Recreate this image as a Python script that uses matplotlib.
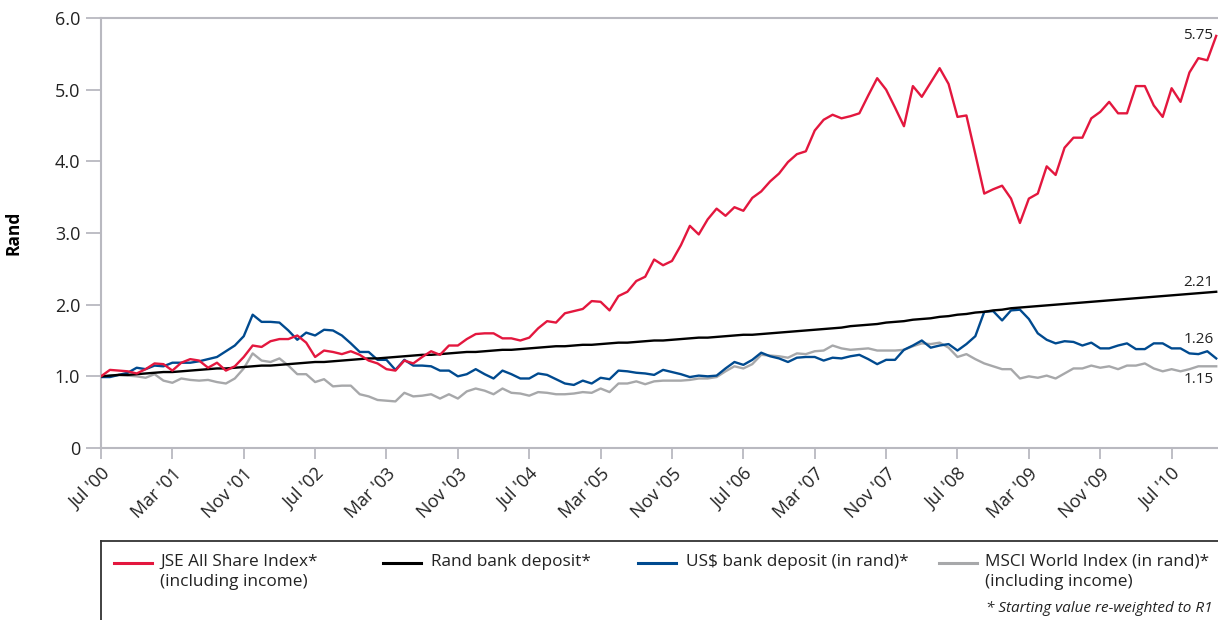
import matplotlib
matplotlib.use("Agg")
import matplotlib.pyplot as plt
from matplotlib.lines import Line2D
from matplotlib.transforms import ScaledTranslation

plt.rcParams['font.family'] = ['Open Sans', 'DejaVu Sans']

# Monthly values, Jul 2000 .. Dec 2010 (index 0 = Jul '00)
jse = [1.00, 1.09, 1.08, 1.07, 1.04, 1.10, 1.18, 1.17, 1.08, 1.19,
       1.24, 1.22, 1.12, 1.19, 1.08, 1.14, 1.27, 1.43, 1.41, 1.49,
       1.52, 1.52, 1.57, 1.47, 1.27, 1.36, 1.34, 1.31, 1.35, 1.30,
       1.22, 1.18, 1.10, 1.08, 1.22, 1.18, 1.27, 1.35, 1.30, 1.43,
       1.43, 1.52, 1.59, 1.60, 1.60, 1.53, 1.53, 1.50, 1.54, 1.67,
       1.77, 1.75, 1.88, 1.91, 1.94, 2.05, 2.04, 1.92, 2.12, 2.18,
       2.33, 2.39, 2.63, 2.55, 2.61, 2.83, 3.10, 2.98, 3.19, 3.34,
       3.24, 3.36, 3.31, 3.49, 3.58, 3.72, 3.83, 3.99, 4.10, 4.14,
       4.43, 4.58, 4.65, 4.60, 4.63, 4.67, 4.92, 5.16, 5.00, 4.75,
       4.49, 5.05, 4.90, 5.10, 5.30, 5.08, 4.62, 4.64, 4.10, 3.55,
       3.61, 3.66, 3.48, 3.14, 3.48, 3.55, 3.93, 3.81, 4.19, 4.33,
       4.33, 4.60, 4.69, 4.83, 4.67, 4.67, 5.05, 5.05, 4.78, 4.62,
       5.02, 4.83, 5.24, 5.44, 5.41, 5.75]

rand_deposit = [1.00, 1.01, 1.02, 1.02, 1.03, 1.04, 1.05, 1.06, 1.06, 1.07,
                1.08, 1.09, 1.10, 1.11, 1.11, 1.12, 1.13, 1.14, 1.15, 1.15,
                1.16, 1.17, 1.18, 1.19, 1.20, 1.20, 1.21, 1.22, 1.23, 1.24,
                1.25, 1.25, 1.26, 1.27, 1.28, 1.29, 1.30, 1.30, 1.31, 1.32,
                1.33, 1.34, 1.34, 1.35, 1.36, 1.37, 1.37, 1.38, 1.39, 1.40,
                1.41, 1.42, 1.42, 1.43, 1.44, 1.44, 1.45, 1.46, 1.47, 1.47,
                1.48, 1.49, 1.50, 1.50, 1.51, 1.52, 1.53, 1.54, 1.54, 1.55,
                1.56, 1.57, 1.58, 1.58, 1.59, 1.60, 1.61, 1.62, 1.63, 1.64,
                1.65, 1.66, 1.67, 1.68, 1.70, 1.71, 1.72, 1.73, 1.75, 1.76,
                1.77, 1.79, 1.80, 1.81, 1.83, 1.84, 1.86, 1.87, 1.89, 1.90,
                1.92, 1.93, 1.95, 1.96, 1.97, 1.98, 1.99, 2.00, 2.01, 2.02,
                2.03, 2.04, 2.05, 2.06, 2.07, 2.08, 2.09, 2.10, 2.11, 2.12,
                2.13, 2.14, 2.15, 2.16, 2.17, 2.18]

usd_deposit = [0.99, 0.99, 1.02, 1.05, 1.12, 1.10, 1.15, 1.14, 1.19, 1.19,
               1.19, 1.21, 1.24, 1.27, 1.35, 1.43, 1.56, 1.86, 1.76, 1.76,
               1.75, 1.64, 1.51, 1.61, 1.57, 1.65, 1.64, 1.57, 1.46, 1.34,
               1.34, 1.23, 1.23, 1.09, 1.23, 1.15, 1.15, 1.14, 1.08, 1.08,
               1.00, 1.03, 1.10, 1.03, 0.97, 1.08, 1.03, 0.97, 0.97, 1.04,
               1.02, 0.96, 0.90, 0.88, 0.94, 0.90, 0.98, 0.96, 1.08, 1.07,
               1.05, 1.04, 1.02, 1.09, 1.06, 1.03, 0.99, 1.01, 1.00, 1.01,
               1.11, 1.20, 1.16, 1.23, 1.33, 1.28, 1.25, 1.20, 1.26, 1.27,
               1.27, 1.22, 1.26, 1.25, 1.28, 1.30, 1.24, 1.17, 1.23, 1.23,
               1.37, 1.43, 1.50, 1.40, 1.43, 1.45, 1.36, 1.45, 1.56, 1.90,
               1.91, 1.78, 1.92, 1.93, 1.80, 1.60, 1.51, 1.46, 1.49, 1.48,
               1.43, 1.47, 1.39, 1.39, 1.43, 1.46, 1.38, 1.38, 1.46, 1.46,
               1.39, 1.39, 1.32, 1.31, 1.35, 1.25]

msci = [0.99, 1.01, 1.02, 1.01, 1.00, 0.98, 1.03, 0.94, 0.91, 0.97,
        0.95, 0.94, 0.95, 0.92, 0.90, 0.97, 1.11, 1.32, 1.22, 1.20,
        1.25, 1.15, 1.03, 1.03, 0.92, 0.96, 0.86, 0.87, 0.87, 0.75,
        0.72, 0.67, 0.66, 0.65, 0.77, 0.72, 0.73, 0.75, 0.69, 0.75,
        0.69, 0.79, 0.83, 0.80, 0.75, 0.83, 0.77, 0.76, 0.73, 0.78,
        0.77, 0.75, 0.75, 0.76, 0.78, 0.77, 0.83, 0.78, 0.90, 0.90,
        0.93, 0.89, 0.93, 0.94, 0.94, 0.94, 0.95, 0.97, 0.97, 0.99,
        1.07, 1.14, 1.11, 1.17, 1.30, 1.29, 1.28, 1.26, 1.32, 1.31,
        1.35, 1.36, 1.43, 1.39, 1.37, 1.38, 1.39, 1.36, 1.36, 1.36,
        1.37, 1.42, 1.46, 1.45, 1.47, 1.40, 1.27, 1.31, 1.24, 1.18,
        1.14, 1.10, 1.10, 0.97, 1.00, 0.98, 1.01, 0.97, 1.04, 1.11,
        1.11, 1.15, 1.12, 1.14, 1.10, 1.15, 1.15, 1.18, 1.11, 1.07,
        1.10, 1.07, 1.10, 1.14, 1.14, 1.14]

tick_labels = ["Jul '00", "Mar '01", "Nov '01", "Jul '02", "Mar '03", "Nov '03",
               "Jul '04", "Mar '05", "Nov '05", "Jul '06", "Mar '07", "Nov '07",
               "Jul '08", "Mar '09", "Nov '09", "Jul '10"]
yticks = [0, 1, 2, 3, 4, 5, 6]
ytick_labels = ["0", "1.0", "2.0", "3.0", "4.0", "5.0", "6.0"]
end_labels = ["5.75", "2.21", "1.26", "1.15"]

series_names = ["JSE All Share Index*\n(including income)", "Rand bank deposit*",
                "US$ bank deposit (in rand)*", "MSCI World Index (in rand)*\n(including income)"]

RED = "#e3173e"
BLACK = "#000000"
BLUE = "#004a8f"
GRAY = "#a7a8aa"
AXC = "#b9b9c0"
TXT = "#222222"

W, H = 1218, 620
fig = plt.figure(figsize=(W / 100, H / 100), dpi=100)
ax = fig.add_axes([101 / W, 1 - 448 / H, (W - 101) / W, (448 - 18) / H])

months = list(range(len(jse)))
lw = 1.7
ax.plot(months, msci, color=GRAY, lw=lw, zorder=2)
ax.plot(months, usd_deposit, color=BLUE, lw=lw, zorder=3)
ax.plot(months, rand_deposit, color=BLACK, lw=lw, zorder=4)
ax.plot(months, jse, color=RED, lw=lw, zorder=5)

ax.set_xlim(0, 125.2)
ax.set_ylim(0, 6.0)
ax.set_yticks(yticks)
ax.set_yticklabels(ytick_labels)
ax.set_xticks([8 * i for i in range(len(tick_labels))])
ax.set_xticklabels(tick_labels, rotation=45, ha='right', va='top', rotation_mode='anchor')
offset = ScaledTranslation(9 / 100, -3 / 100, fig.dpi_scale_trans)
for lab in ax.get_xticklabels():
    lab.set_transform(lab.get_transform() + offset)

for s in ['left', 'bottom', 'top']:
    ax.spines[s].set_color(AXC)
    ax.spines[s].set_linewidth(1.5)
ax.spines['right'].set_visible(False)
ax.tick_params(axis='y', length=11, width=1.3, color=AXC, labelsize=13, labelcolor=TXT, pad=4)
ax.tick_params(axis='x', length=8, width=1.3, color=AXC, labelsize=13, labelcolor=TXT, pad=4)
ax.set_ylabel("Rand", fontsize=12.5, fontweight='bold', color=BLACK)
ax.yaxis.set_label_coords(-0.07, 0.5)

# end value labels
lab_x = 124.7
ax.text(lab_x, 5.76, end_labels[0], ha='right', va='center', fontsize=11, color=TXT)
ax.text(lab_x, 2.31, end_labels[1], ha='right', va='center', fontsize=11, color=TXT)
ax.text(lab_x, 1.52, end_labels[2], ha='right', va='center', fontsize=11, color=TXT)
ax.text(lab_x, 0.95, end_labels[3], ha='right', va='center', fontsize=11, color=TXT)

# legend box (open at right and bottom)
fig.add_artist(Line2D([101 / W, 1.0], [1 - 541 / H, 1 - 541 / H], transform=fig.transFigure,
                      color="#333333", lw=1.3))
fig.add_artist(Line2D([101 / W, 101 / W], [1 - 541 / H, 0.0], transform=fig.transFigure,
                      color="#333333", lw=1.3))

legend_colors = [RED, BLACK, BLUE, GRAY]
handle_x = [114, 383, 638, 939]
text_x = [160, 431, 686, 985]
for name, c, hx, tx in zip(series_names, legend_colors, handle_x, text_x):
    y = 1 - 563 / H
    fig.add_artist(Line2D([hx / W, (hx + 38) / W], [y, y], transform=fig.transFigure,
                          color=c, lw=2.2))
    fig.text(tx / W, 1 - 554 / H, name, ha='left', va='top', fontsize=12.4,
             color=TXT, linespacing=1.3)

fig.text(1213 / W, 1 - 608 / H, "* Starting value re-weighted to R1", ha='right', va='center',
         fontsize=11, style='italic', color=TXT)

fig.savefig("out.png", dpi=100)
